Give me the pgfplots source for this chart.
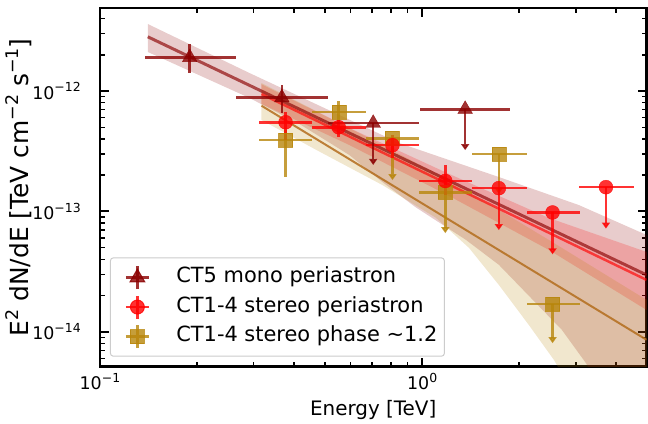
\documentclass[border=0pt]{standalone}
\usepackage{fontspec}
\setmainfont{DejaVu Sans}
\usepackage{pgfplots}
\pgfplotsset{compat=1.18}
\usetikzlibrary{arrows.meta}

\definecolor{ct5}{RGB}{139,0,0}
\definecolor{stereo}{RGB}{255,0,0}
\definecolor{phase}{RGB}{184,134,11}
\definecolor{phaseline}{RGB}{180,110,30}

% 10^n tick labels and superscripts in the text font
\newcommand{\tl}[1]{10\raisebox{0.42em}{\fontsize{12.5}{12.5}\selectfont#1}}
\newcommand{\sups}[1]{\raisebox{0.42em}{\fontsize{17.5}{17.5}\selectfont#1}}

\pgfplotsset{
  pts/.style={only marks, opacity=0.8, forget plot,
    error bars/x dir=both, error bars/x explicit,
    error bars/y dir=both, error bars/y explicit,
    error bars/error mark=none,
    error bars/error bar style={line width=2.5bp}},
  ul/.style={only marks, opacity=0.8, forget plot,
    error bars/x dir=both, error bars/x explicit,
    error bars/error mark=none,
    error bars/error bar style={line width=2.5bp}},
  arr/.style={forget plot, opacity=0.8, line width=2.5bp,
    -{Triangle[width=8bp,length=6bp]}},
  band/.style={forget plot, draw=none, fill opacity=0.2},
  fit/.style={forget plot, line width=2.5bp, opacity=0.65},
  legimg/.style n args={3}{legend image code/.code={
    \path[draw=none, fill=none] (-20bp,-11.5bp) rectangle (39bp,11.5bp);
    \draw[#1, opacity=0.8, line width=2.5bp, sharp corners]
      (0bp,-11.5bp) -- (0bp,11.5bp) (-11.5bp,0bp) -- (11.5bp,0bp);
    \draw[#1, fill=#1, opacity=0.8, sharp corners]
      plot[mark=#2, mark size=#3] coordinates {(0bp,0bp)};}},
}

\begin{document}
\begin{tikzpicture}
\begin{axis}[
  name=ax,
  scale only axis, width=547bp, height=359bp,
  xmode=log, ymode=log,
  xmin=0.1, xmax=4.97, ymin=5.13e-15, ymax=4.89e-12,
  xtick={0.1,1}, xticklabels={\tl{−1},\tl{0}},
  minor xtick={0.2,0.3,0.4,0.5,0.6,0.7,0.8,0.9,2,3,4},
  ytick={1e-14,1e-13,1e-12}, yticklabels={\tl{−14},\tl{−13},\tl{−12}},
  minor ytick={6e-15,7e-15,8e-15,9e-15,
    2e-14,3e-14,4e-14,5e-14,6e-14,7e-14,8e-14,9e-14,
    2e-13,3e-13,4e-13,5e-13,6e-13,7e-13,8e-13,9e-13,
    2e-12,3e-12,4e-12},
  tick align=inside, tick pos=both,
  xticklabel pos=lower, yticklabel pos=left,
  major tick length=9bp, minor tick length=5bp,
  every major tick/.append style={line width=2bp, black},
  every minor tick/.append style={line width=1.5bp, black},
  axis line style={line width=2.6bp},
  tick label style={font=\fontsize{17.5}{21}\selectfont},
  xticklabel style={anchor=north, inner sep=0pt, yshift=-6bp},
  yticklabel style={anchor=east, inner sep=0pt, xshift=-19bp},
  every axis x label/.style={at={(rel axis cs:0.5,0)}, anchor=base,
    yshift=-49bp, font=\fontsize{20}{24}\selectfont},
  every axis y label/.style={at={(rel axis cs:0,0.5)}, xshift=-71bp,
    rotate=90, anchor=base, font=\fontsize{25}{30}\selectfont},
  xlabel={Energy [TeV]},
  ylabel={E\sups{2} dN/dE [TeV cm\sups{−2} s\sups{−1}]},
  legend cell align=left,
  legend style={at={(rel axis cs:0,0)}, anchor=south west,
    xshift=10bp, yshift=10bp, draw=black!20, line width=1bp,
    rounded corners=3bp, fill=white, fill opacity=0.8, text opacity=1,
    inner sep=7bp, row sep=4bp, font=\fontsize{21}{25}\selectfont,
    nodes={inner sep=0pt, text height=15bp, text depth=5bp}},
]

% legend entries
\addlegendimage{legimg={ct5}{triangle*}{8.5bp}}
\addlegendentry{CT5 mono periastron}
\addlegendimage{legimg={stereo}{*}{7bp}}
\addlegendentry{CT1-4 stereo periastron}
\addlegendimage{legimg={phase}{square*}{7bp}}
\addlegendentry{CT1-4 stereo phase \textasciitilde1.2}

% fit bands
\addplot[band, fill=ct5] coordinates {
  (0.1408,3.60e-12) (0.2913,1.41e-12) (0.5534,6.32e-13) (0.8487,3.70e-13)
  (1.731,1.93e-13) (3.063,1.13e-13) (4.97,6.38e-14)
  (4.97,1e-16) (3.8,1e-16) (3.532,3.63e-15) (3.219,5.53e-15) (2.713,1.04e-14)
  (1.731,3.60e-14) (1.368,5.80e-14) (0.9513,1.09e-13) (0.7517,1.76e-13)
  (0.5943,2.94e-13) (0.416,5.32e-13) (0.2913,8.75e-13) (0.1408,2.11e-12)};
\addplot[band, fill=stereo] coordinates {
  (0.3173,1.14e-12) (0.5943,4.93e-13) (1.212,2.05e-13) (2.473,8.83e-14) (4.97,4.61e-14)
  (4.97,1.52e-14) (2.473,4.79e-14) (1.212,1.345e-13) (0.5943,3.56e-13) (0.3173,7.80e-13)};
\addplot[band, fill=phase] coordinates {
  (0.3173,1.165e-12) (0.5943,4.93e-13) (1.212,1.825e-13) (2.473,5.80e-14) (4.97,1.845e-14)
  (4.97,1e-16) (3.0,1e-16) (2.852,3.63e-15) (2.563,5.86e-15) (2.144,1.14e-14)
  (1.731,2.45e-14) (1.398,4.98e-14) (1.105,8.83e-14) (0.7517,1.66e-13)
  (0.4695,3.24e-13) (0.3173,5.74e-13)};

% fit lines
\addplot[fit, ct5, line width=3bp] coordinates {(0.1408,2.82e-12) (4.97,2.97e-14)};
\addplot[fit, stereo] coordinates {(0.3173,9.43e-13) (4.97,2.70e-14)};
\addplot[fit, phaseline, opacity=0.85, line width=2bp] coordinates {(0.3173,7.55e-13) (4.97,8.59e-15)};

% CT1-4 stereo phase ~1.2
\addplot[pts, phase, mark=square*, mark size=7bp] coordinates {
  (0.377,3.92e-13) += (0.079,0.83e-13) -= (0.066,2.0e-13)
  (0.551,6.7e-13)  += (0.119,1.56e-13) -= (0.095,1.03e-13)};
\addplot[ul, phase, mark=square*, mark size=7bp] coordinates {
  (0.809,4.05e-13) += (0.171,0) -= (0.139,0)
  (1.18,1.44e-13)  += (0.25,0)  -= (0.20,0)
  (1.73,3.0e-13)   += (0.38,0)  -= (0.30,0)
  (2.54,1.71e-14)  += (0.54,0)  -= (0.43,0)};
\addplot[arr, phase] coordinates {(0.809,4.05e-13) (0.809,1.82e-13)};
\addplot[arr, phase] coordinates {(1.18,1.44e-13) (1.18,6.6e-14)};
\addplot[arr, phase] coordinates {(1.73,3.0e-13) (1.73,1.4e-13)};
\addplot[arr, phase] coordinates {(2.54,1.71e-14) (2.54,8.05e-15)};

% CT1-4 stereo periastron
\addplot[pts, stereo, mark=*, mark size=7bp] coordinates {
  (0.377,5.5e-13)  += (0.079,1.2e-13)  -= (0.066,1.6e-13)
  (0.551,5.0e-13)  += (0.119,0.75e-13) -= (0.095,0.82e-13)
  (0.809,3.55e-13) += (0.171,0.75e-13) -= (0.139,0.75e-13)
  (1.18,1.79e-13)  += (0.25,0.64e-13)  -= (0.20,0.42e-13)};
\addplot[ul, stereo, mark=*, mark size=7bp] coordinates {
  (1.73,1.56e-13) += (0.38,0) -= (0.30,0)
  (2.54,9.8e-14)  += (0.54,0) -= (0.43,0)
  (3.72,1.59e-13) += (0.81,0) -= (0.66,0)};
\addplot[arr, stereo] coordinates {(1.73,1.56e-13) (1.73,7.0e-14)};
\addplot[arr, stereo] coordinates {(2.54,9.8e-14) (2.54,4.4e-14)};
\addplot[arr, stereo] coordinates {(3.72,1.59e-13) (3.72,7.2e-14)};

% CT5 mono periastron
\addplot[pts, ct5, mark=triangle*, mark size=8.5bp] coordinates {
  (0.190,1.90e-12) += (0.075,0.55e-12) -= (0.052,0.50e-12)
  (0.367,8.8e-13)  += (0.142,2.4e-13)  -= (0.102,2.2e-13)};
\addplot[ul, ct5, mark=triangle*, mark size=8.5bp] coordinates {
  (0.705,5.4e-13) += (0.274,0) -= (0.196,0)
  (1.36,7.05e-13) += (0.52,0)  -= (0.377,0)};
\addplot[arr, ct5] coordinates {(0.705,5.4e-13) (0.705,2.43e-13)};
\addplot[arr, ct5] coordinates {(1.36,7.05e-13) (1.36,3.23e-13)};

\end{axis}
\path ([shift={(-100bp,-54bp)}]ax.south west) rectangle ([shift={(1.5bp,8bp)}]ax.north east);
\end{tikzpicture}
\end{document}
